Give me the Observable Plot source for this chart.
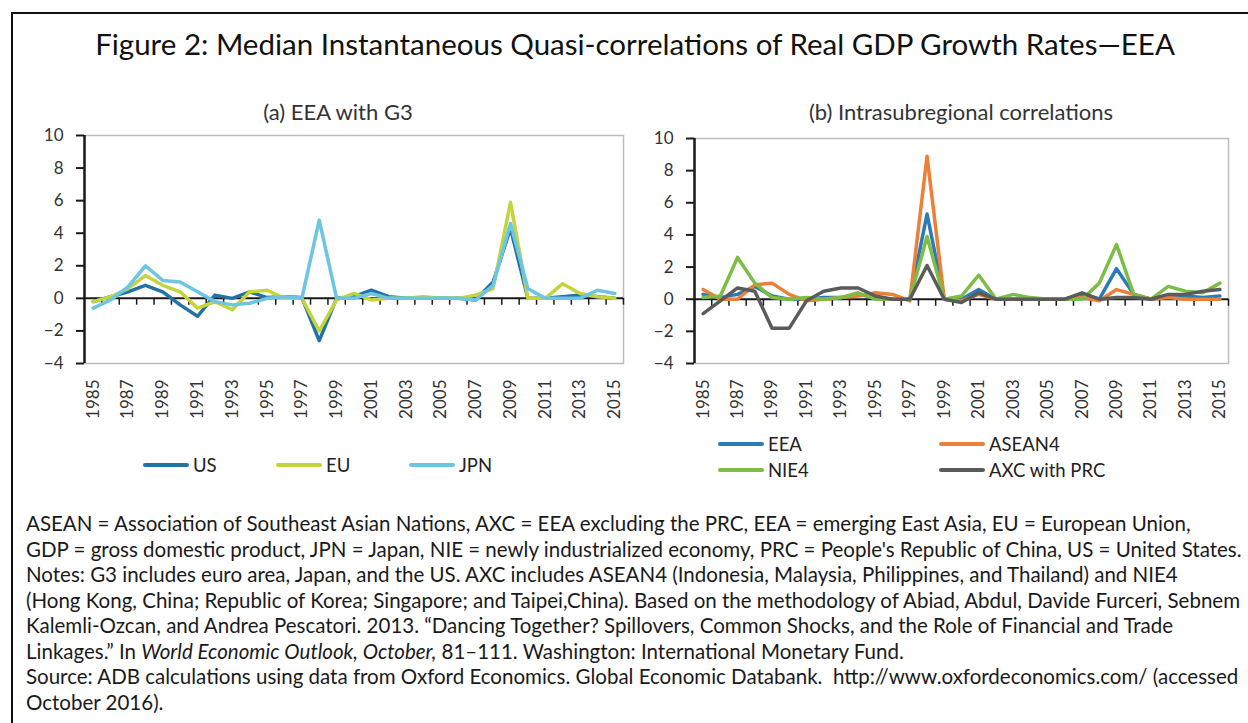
<!DOCTYPE html>
<html>
<head>
<meta charset="utf-8">
<script src="https://cdn.jsdelivr.net/npm/d3@7"></script>
<script src="https://cdn.jsdelivr.net/npm/@observablehq/plot@0.6"></script>
<style>
  html, body { margin: 0; padding: 0; background: #fff; }
  #page { position: relative; width: 1248px; height: 723px; overflow: hidden; font-family: Lato, "Open Sans", sans-serif; color: #1a1a1a; }
  #frame { position: absolute; left: 11px; top: 12px; width: 1300px; height: 800px; border-left: 2px solid #111; border-top: 2px solid #111; }
  .abs { position: absolute; white-space: nowrap; }
  #title { left: 0; width: 1270px; text-align: center; top: 27px; font-size: 29.5px; line-height: 34px; color: #111; }
  .sub { font-size: 22px; line-height: 26px; color: #333; transform: translateX(-50%); }
  .chart { position: absolute; }
  .leg { position: absolute; font-size: 18.5px; line-height: 22px; color: #222; display: flex; align-items: center; white-space: nowrap; }
  .sw { display: inline-block; width: 46px; height: 4px; border-radius: 2px; margin-right: 4px; }
  #notes { left: 26px; top: 511px; font-size: 20.5px; line-height: 25.5px; color: #1a1a1a; }
</style>
</head>
<body>
<div id="page">
  <div id="frame"></div>
  <div id="title" class="abs">Figure 2: Median Instantaneous Quasi-correlations of Real GDP Growth Rates—EEA</div>
  <div class="abs sub" style="left:338px; top:99px;">(a) EEA with G3</div>
  <div class="abs sub" style="left:961px; top:99px;">(b) Intrasubregional correlations</div>
  <div id="left" class="chart" style="left:30px; top:120px;"></div>
  <div id="right" class="chart" style="left:640px; top:120px;"></div>
  <div id="legL"></div>
  <div id="legR"></div>
  <div id="notes" class="abs">
    <div>ASEAN = Association of Southeast Asian Nations, AXC = EEA excluding the PRC, EEA = emerging East Asia, EU = European Union,</div>
    <div>GDP = gross domestic product, JPN = Japan, NIE = newly industrialized economy, PRC = People's Republic of China, US = United States.</div>
    <div>Notes: G3 includes euro area, Japan, and the US. AXC includes ASEAN4 (Indonesia, Malaysia, Philippines, and Thailand) and NIE4</div>
    <div>(Hong Kong, China; Republic of Korea; Singapore; and Taipei,China). Based on the methodology of Abiad, Abdul, Davide Furceri, Sebnem</div>
    <div>Kalemli-Ozcan, and Andrea Pescatori. 2013. “Dancing Together? Spillovers, Common Shocks, and the Role of Financial and Trade</div>
    <div>Linkages.” In <i>World Economic Outlook, October,</i> 81–111. Washington: International Monetary Fund.</div>
    <div>Source: ADB calculations using data from Oxford Economics. Global Economic Databank.&nbsp; http://www.oxfordeconomics.com/ (accessed</div>
    <div>October 2016).</div>
  </div>
</div>
<script>
// ---- Data ----
const years = [1985,1986,1987,1988,1989,1990,1991,1992,1993,1994,1995,1996,1997,1998,1999,2000,
               2001,2002,2003,2004,2005,2006,2007,2008,2009,2010,2011,2012,2013,2014,2015];
const yearLabels = [1985,1987,1989,1991,1993,1995,1997,1999,2001,2003,2005,2007,2009,2011,2013,2015];
const yTicks = [-4,-2,0,2,4,6,8,10];

// Panel (a): EEA with G3
const seriesA = ["US","EU","JPN"];
const us  = [-0.2,0.1,0.4,0.8,0.4,-0.4,-1.1,0.2,0.0,0.4,0.05,0.1,0.05,-2.6,0.0,0.1,0.5,0.1,0.0,0.05,0.0,0.0,-0.1,1.0,4.3,0.0,0.0,0.1,0.2,0.1,0.0];
const eu  = [-0.2,0.1,0.6,1.4,0.8,0.4,-0.6,-0.2,-0.7,0.4,0.5,0.0,0.0,-2.0,-0.1,0.3,-0.1,0.0,0.0,0.1,0.0,0.0,0.2,0.6,5.9,0.0,0.0,0.9,0.3,0.1,0.0];
const jpn = [-0.6,-0.1,0.7,2.0,1.1,1.0,0.4,-0.2,-0.4,-0.3,0.0,0.1,0.0,4.8,0.0,0.0,0.3,0.0,0.0,0.0,0.0,0.0,-0.1,0.8,4.6,0.6,0.0,0.0,0.0,0.5,0.3];
const colorsA = ["#2272a8","#c5d43c","#6cc6e3"];

// Panel (b): Intrasubregional correlations
const seriesB = ["EEA","ASEAN4","NIE4","AXC with PRC"];
const eea    = [0.3,0.1,0.3,0.8,0.2,0.0,0.0,0.1,0.1,0.3,0.1,0.0,0.0,5.3,0.0,0.0,0.6,0.0,0.0,0.0,0.0,0.0,0.3,0.0,1.9,0.3,0.0,0.2,0.2,0.1,0.2];
const asean4 = [0.6,0.0,0.0,0.9,1.0,0.3,-0.1,0.0,0.1,0.2,0.4,0.3,-0.1,8.9,0.0,-0.1,0.3,0.0,0.0,0.0,0.0,0.0,0.1,-0.1,0.6,0.3,0.0,0.1,0.0,0.0,0.0];
const nie4   = [0.1,0.2,2.6,1.0,0.1,0.0,0.1,0.0,0.1,0.4,0.0,0.0,0.0,3.9,0.0,0.2,1.5,0.0,0.3,0.1,0.0,0.0,0.0,1.0,3.4,0.3,0.0,0.8,0.5,0.4,1.0];
const axc    = [-0.9,-0.1,0.7,0.5,-1.8,-1.8,-0.1,0.5,0.7,0.7,0.2,0.0,0.0,2.1,0.0,-0.2,0.4,0.0,0.0,0.0,0.0,0.0,0.4,0.0,0.1,0.1,0.0,0.3,0.3,0.5,0.6];
const colorsB = ["#2a7bb8","#ee7f38","#7cbd45","#5b5b5b"];

// ---- Helpers ----
function tidy(names, arrays) {
  const rows = [];
  names.forEach((n, k) => years.forEach((yr, i) => rows.push({series: n, year: yr, value: arrays[k][i]})));
  return rows;
}
const fmt = d => d < 0 ? "\u2212" + Math.abs(d) : String(d);
const xDomain = [years[0] - 0.5, years[years.length - 1] + 0.5];
const bounds = years.slice(0, -1).map(y => y + 0.5).concat([xDomain[1]]);

function panel(names, arrays, colors, opts) {
  return Plot.plot({
    width: 600, height: 310,
    marginLeft: 54, marginRight: opts.mr, marginTop: opts.mt, marginBottom: 67,
    style: {fontFamily: "Lato, sans-serif", fontSize: "17px", color: "#333", background: "transparent"},
    x: {type: "linear", domain: xDomain},
    y: {domain: [-4, 10]},
    color: {domain: names, range: colors},
    marks: [
      Plot.frame({stroke: "#bcbcbc", strokeWidth: 1.5}),
      Plot.ruleY([0], {stroke: "#1a1a1a", strokeWidth: 2}),
      Plot.ruleX(bounds, {x: d => d, y1: 0, y2: opts.tick, stroke: "#1a1a1a", strokeWidth: 1.5}),
      Plot.ruleX([xDomain[0]], {stroke: "#1a1a1a", strokeWidth: 2.5}),
      Plot.axisY({ticks: yTicks, tickSize: 8, tickPadding: 13, tickFormat: fmt, fontSize: 17, stroke: "#1a1a1a", strokeWidth: 2, label: null}),
      Plot.axisX({ticks: yearLabels, tickFormat: d => String(d), tickRotate: -90, tickSize: 0, tickPadding: 16, fontSize: 17, label: null}),
      Plot.line(tidy(names, arrays), {x: "year", y: "value", z: "series", stroke: "series", strokeWidth: 3.5, strokeLinejoin: "round", strokeLinecap: "round"})
    ]
  });
}

document.getElementById("left").appendChild(panel(seriesA, [us, eu, jpn], colorsA, {mr: 7, mt: 15, tick: -0.42}));
document.getElementById("right").appendChild(panel(seriesB, [eea, asean4, nie4, axc], colorsB, {mr: 12, mt: 18, tick: -0.44}));

// ---- Legends ----
function legendItem(parent, name, color, left, top) {
  const d = document.createElement("div");
  d.className = "leg";
  d.style.left = left + "px";
  d.style.top = top + "px";
  const s = document.createElement("span");
  s.className = "sw";
  s.style.background = color;
  d.appendChild(s);
  d.appendChild(document.createTextNode(name));
  parent.appendChild(d);
}
const legL = document.getElementById("legL");
const legLx = [143, 276, 409];
seriesA.forEach((n, i) => legendItem(legL, n, colorsA[i], legLx[i], 454));
const legR = document.getElementById("legR");
const legRpos = [[718, 433], [939, 433], [718, 459], [939, 459]];
seriesB.forEach((n, i) => legendItem(legR, n, colorsB[i], legRpos[i][0], legRpos[i][1]));
</script>
</body>
</html>
